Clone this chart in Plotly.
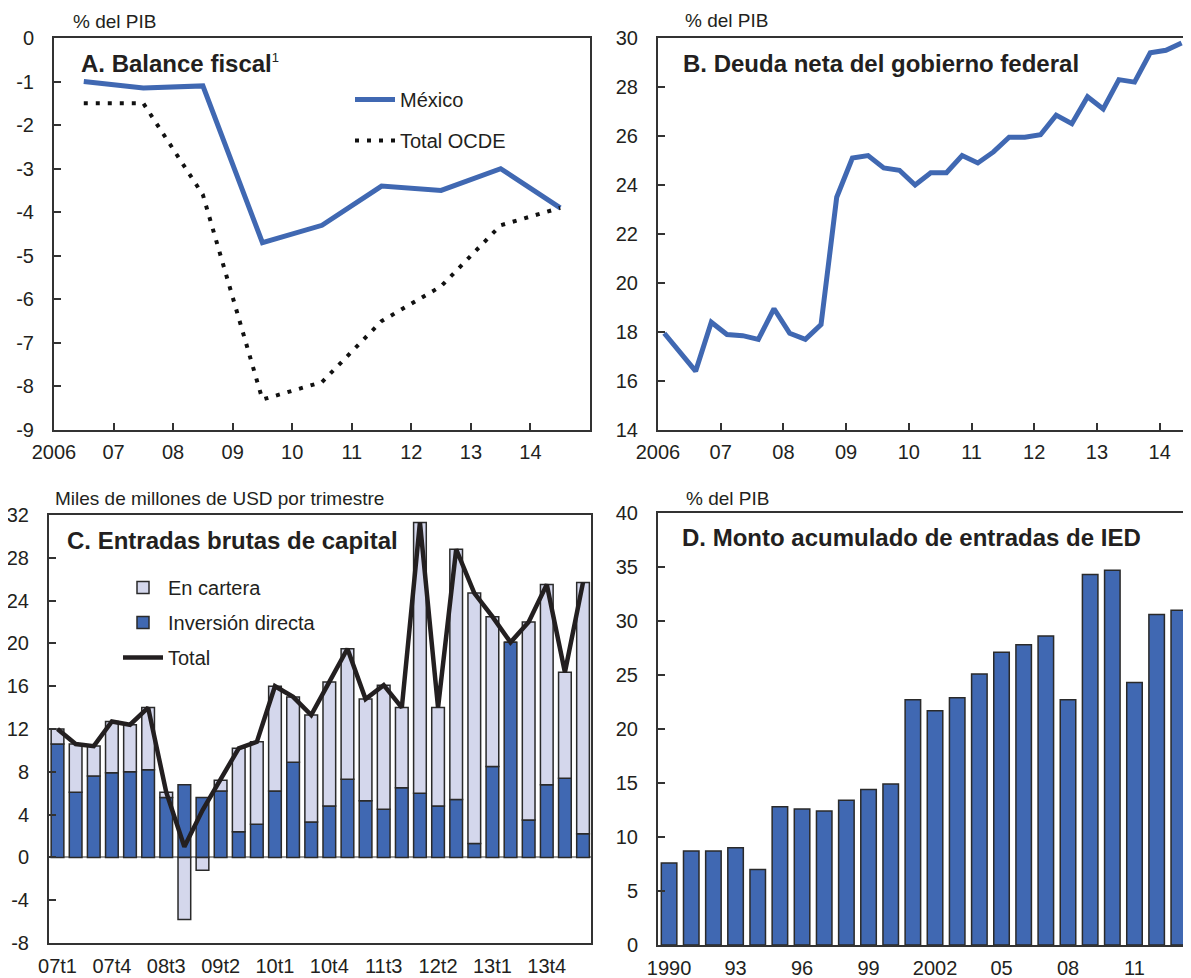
import plotly.graph_objects as go

W, H = 1191, 978
PAGE_MARGIN = 8  # the html body adds 8px around the figure

# A. Balance fiscal (% del PIB), annual
years_a = list(range(2006, 2015))
mexico_balance = [-1.0, -1.15, -1.1, -4.7, -4.3, -3.4, -3.5, -3.0, -3.9]
ocde_balance = [-1.5, -1.5, -3.6, -8.3, -7.9, -6.5, -5.7, -4.3, -3.9]
year_ticks = ["2006", "07", "08", "09", "10", "11", "12", "13", "14"]

# B. Deuda neta del gobierno federal (% del PIB), quarterly 2006t1-2014t2
net_debt = [17.95, 17.2, 16.4, 18.4, 17.9, 17.85, 17.7, 18.95, 17.95, 17.7,
            18.3, 23.5, 25.1, 25.2, 24.7, 24.6, 24.0, 24.5, 24.5, 25.2,
            24.9, 25.35, 25.95, 25.95, 26.05, 26.85, 26.5, 27.6, 27.1, 28.3,
            28.2, 29.4, 29.5, 29.8]

# C. Entradas brutas de capital (miles de millones de USD por trimestre)
quarters = [f"{y:02d}t{q}" for y in range(7, 15) for q in range(1, 5)][:30]
direct_inv = [10.6, 6.1, 7.6, 7.9, 8.0, 8.2, 5.6, 6.8, 5.6, 6.2,
              2.4, 3.1, 6.2, 8.9, 3.3, 4.8, 7.3, 5.3, 4.5, 6.5,
              6.0, 4.8, 5.4, 1.3, 8.5, 20.1, 3.5, 6.8, 7.4, 2.2]
portfolio = [1.4, 4.5, 2.8, 4.8, 4.4, 5.8, 0.5, -5.8, -1.2, 1.0,
             7.8, 7.7, 9.8, 6.1, 10.0, 11.6, 12.2, 9.5, 11.6, 7.5,
             25.3, 9.2, 23.4, 23.4, 14.0, 0.0, 18.5, 18.7, 9.9, 23.5]
quarter_ticks = ["07t1", "07t4", "08t3", "09t2", "10t1", "10t4", "11t3", "12t2", "13t1", "13t4"]

# D. Monto acumulado de entradas de IED (% del PIB)
years_d = list(range(1990, 2014))
fdi_stock = [7.6, 8.7, 8.7, 9.0, 7.0, 12.8, 12.6, 12.4, 13.4, 14.4,
             14.9, 22.7, 21.7, 22.9, 25.1, 27.1, 27.8, 28.6, 22.7, 34.3,
             34.7, 24.3, 30.6, 31.0]
fdi_tickvals = [1990, 1993, 1996, 1999, 2002, 2005, 2008, 2011]
fdi_ticktext = ["1990", "93", "96", "99", "2002", "05", "08", "11"]

FONT = "Liberation Sans Narrow, Arial Narrow, Liberation Sans, Arial, sans-serif"
TXT = "#231f20"
FRAME = "#333333"
BLUE = "#4068b2"
LIGHT = "#d4d7ec"


def px(x):
    # page pixel -> paper fraction
    return (x - PAGE_MARGIN) / W


def py(y):
    return 1 - (y - PAGE_MARGIN) / H


def hyphen(vals):
    return [str(v).replace("\u2212", "-") for v in vals]


fig = go.Figure()

# panel A
fig.add_trace(go.Scatter(x=[y + 0.5 for y in years_a], y=mexico_balance, mode="lines",
                         name="México", line=dict(color=BLUE, width=5),
                         xaxis="x", yaxis="y", legend="legend", legendgroup="mx"))
fig.add_trace(go.Scatter(x=[y + 0.5 for y in years_a], y=ocde_balance, mode="lines",
                         name="Total OCDE", line=dict(color="#111111", width=4, dash="4px,8px"),
                         xaxis="x", yaxis="y", legend="legend", legendgroup="oc"))

# panel B
debt_x = [2006 + i / 4 + 0.1 for i in range(len(net_debt))]
fig.add_trace(go.Scatter(x=debt_x, y=net_debt, mode="lines", showlegend=False,
                         line=dict(color=BLUE, width=5), xaxis="x2", yaxis="y2"))

# panel C
fig.add_trace(go.Bar(x=quarters, y=direct_inv, name="Inversión directa", legendrank=2,
                     marker=dict(color=BLUE, line=dict(color="#2a2a2a", width=1.5)),
                     xaxis="x3", yaxis="y3", legend="legend2", legendgroup="d"))
fig.add_trace(go.Bar(x=quarters, y=portfolio, name="En cartera", legendrank=1,
                     marker=dict(color=LIGHT, line=dict(color="#2a2a2a", width=1.5)),
                     xaxis="x3", yaxis="y3", legend="legend2", legendgroup="p"))
total = [a + b for a, b in zip(direct_inv, portfolio)]
fig.add_trace(go.Scatter(x=quarters, y=total, mode="lines", name="Total", legendrank=3,
                         line=dict(color=TXT, width=4.5),
                         xaxis="x3", yaxis="y3", legend="legend2", legendgroup="t"))

# panel D
fig.add_trace(go.Bar(x=years_d, y=fdi_stock, showlegend=False,
                     marker=dict(color=BLUE, line=dict(color="#2a2a2a", width=1.5)),
                     xaxis="x4", yaxis="y4"))

tickfont = dict(family=FONT, size=20, color=TXT)
frame = dict(showline=True, mirror=True, linecolor=FRAME, linewidth=2,
             showgrid=False, zeroline=False, ticks="inside", ticklen=7,
             tickwidth=2, tickcolor=FRAME, tickfont=tickfont, automargin=False)

top_a, bot_a = 38, 430
top_c, bot_c = 515, 943
top_d, bot_d = 513, 945

fig.update_layout(
    width=W, height=H, margin=dict(l=0, r=0, t=0, b=0, autoexpand=False),
    paper_bgcolor="white", plot_bgcolor="white",
    font=dict(family=FONT, color=TXT),
    barmode="relative", bargap=0.3,
    xaxis=dict(domain=[px(54), px(590)], anchor="y", range=[2006, 2015],
               tickvals=years_a, ticktext=year_ticks, ticklabelstandoff=3, **frame),
    yaxis=dict(domain=[py(bot_a), py(top_a)], anchor="x", range=[-9, 0],
               tickvals=list(range(-9, 1)), ticktext=hyphen(range(-9, 1)),
               ticklabelstandoff=14, **frame),
    xaxis2=dict(domain=[px(658), px(1191)], anchor="y2", range=[2006, 2014.5],
                tickvals=years_a, ticktext=year_ticks, ticklabelstandoff=3, **frame),
    yaxis2=dict(domain=[py(bot_a), py(top_a)], anchor="x2", range=[14, 30],
                tickvals=list(range(14, 31, 2)), ticklabelstandoff=14, **frame),
    xaxis3=dict(domain=[px(49), px(591)], anchor="y3", type="category",
                range=[-0.47, 29.44], tickvals=quarter_ticks, ticklabelstandoff=4,
                **{**frame, "ticks": ""}),
    yaxis3=dict(domain=[py(bot_c), py(top_c)], anchor="x3", range=[-8, 32],
                tickvals=list(range(-8, 33, 4)), ticktext=hyphen(range(-8, 33, 4)),
                ticklabelstandoff=14, **{**frame, "zeroline": True,
                                         "zerolinecolor": "#9a9a9a", "zerolinewidth": 2}),
    xaxis4=dict(domain=[px(658), px(1191)], anchor="y4", range=[1989.5, 2013.55],
                tickvals=fdi_tickvals, ticktext=fdi_ticktext, ticklabelstandoff=4,
                **{**frame, "ticks": ""}),
    yaxis4=dict(domain=[py(bot_d), py(top_d)], anchor="x4", range=[0, 40],
                tickvals=list(range(0, 41, 5)), ticklabelstandoff=14, **frame),
    legend=dict(x=px(350), y=py(80), xanchor="left", yanchor="top",
                bgcolor="rgba(0,0,0,0)", font=dict(family=FONT, size=20, color=TXT),
                tracegroupgap=12, itemwidth=40),
    legend2=dict(x=px(118), y=py(568), xanchor="left", yanchor="top",
                 bgcolor="rgba(0,0,0,0)", font=dict(family=FONT, size=20, color=TXT),
                 tracegroupgap=6, itemwidth=40),
)

unit_font = dict(family=FONT, size=19, color=TXT)
title_font = dict(family=FONT, size=24, color=TXT)
notes = [
    (71, 22, "% del PIB", unit_font),
    (79, 64, "<b>A. Balance fiscal</b><sup><span style='font-size:13px'>1</span></sup>", title_font),
    (683, 20, "% del PIB", unit_font),
    (681, 63, "<b>B. Deuda neta del gobierno federal</b>", title_font),
    (53, 498, "Miles de millones de USD por trimestre", unit_font),
    (65, 540, "<b>C. Entradas brutas de capital</b>", title_font),
    (684, 498, "% del PIB", unit_font),
    (680, 537, "<b>D. Monto acumulado de entradas de IED</b>", title_font),
]
for x, y, text, f in notes:
    fig.add_annotation(x=px(x), y=py(y), xref="paper", yref="paper", text=text,
                       showarrow=False, xanchor="left", yanchor="middle", font=f)

fig.write_html("out.html")
